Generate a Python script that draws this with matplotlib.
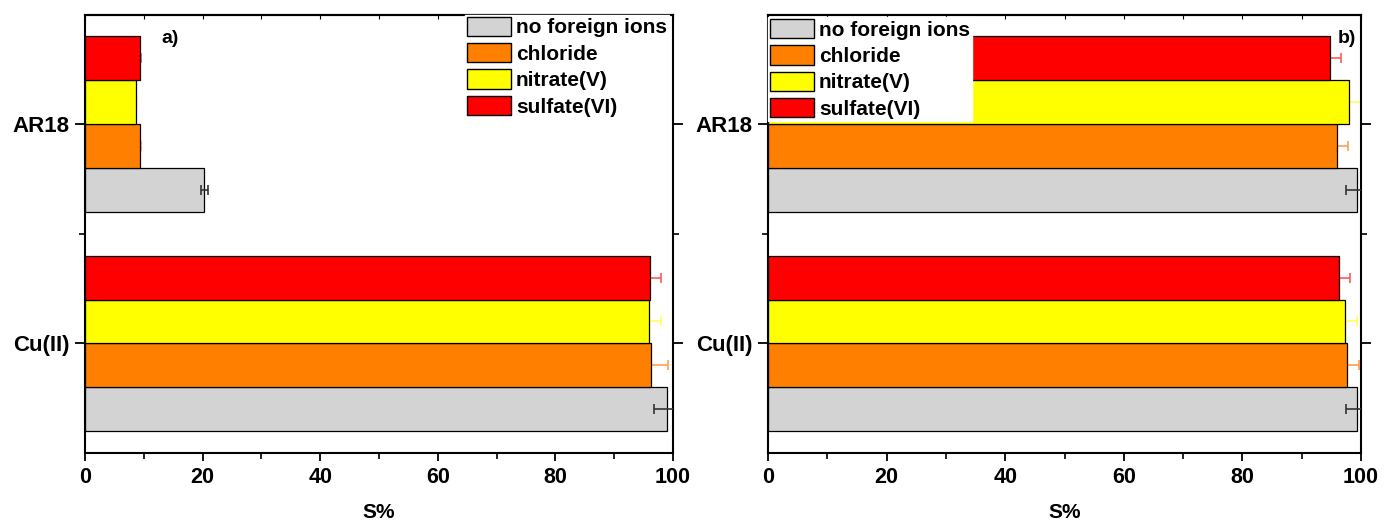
import matplotlib
matplotlib.use("Agg")
import matplotlib.pyplot as plt
from matplotlib.patches import Patch
from matplotlib.ticker import MultipleLocator, FixedLocator, NullFormatter
import numpy as np

plt.rcParams['font.family'] = ['Liberation Sans', 'DejaVu Sans']
plt.rcParams['font.weight'] = 'bold'

categories = ["Cu(II)", "AR18"]
series = ["no foreign ions", "chloride", "nitrate(V)", "sulfate(VI)"]
colors = ["#d3d3d3", "#ff8000", "#ffff00", "#ff0000"]
err_colors = ["#333333", "#ff9f50", "#ffff60", "#ff5a5a"]

# panel a) values per series: [Cu(II), AR18]
a_vals = [[98.9, 20.3], [96.3, 9.3], [95.9, 8.7], [96.1, 9.3]]
a_errs = [[2.1, 0.6], [2.8, 0.3], [2.0, 0.2], [1.9, 0.25]]
# panel b) values per series: [Cu(II), AR18]
b_vals = [[99.4, 99.4], [97.6, 95.9], [97.3, 97.9], [96.3, 94.7]]
b_errs = [[1.9, 1.9], [2.1, 1.9], [2.0, 2.2], [1.9, 1.9]]

xticks = [0, 20, 40, 60, 80, 100]

fig = plt.figure(figsize=(13.85, 5.28), dpi=100)
ax_a = fig.add_axes([0.0614, 0.142, 0.4246, 0.8305])
ax_b = fig.add_axes([0.5545, 0.142, 0.4282, 0.8305])

ypos = np.arange(len(categories))
h = 0.2
offsets = [-0.3, -0.1, 0.1, 0.3]


def draw(ax, vals, errs, tag, tag_xy, legend_loc, legend_anchor):
    for i, name in enumerate(series):
        ax.barh(ypos + offsets[i], vals[i], height=h, color=colors[i],
                edgecolor="black", linewidth=0.9, label=name, zorder=2)
        # coloured bars hide the inner half of their own error bar
        ax.errorbar(vals[i], ypos + offsets[i], xerr=errs[i], fmt="none",
                    ecolor=err_colors[i], elinewidth=1.2, capsize=3.5,
                    capthick=1.2, zorder=3 if i == 0 else 1.5, clip_on=True)
    ax.set_xlim(0, 100)
    ax.set_ylim(-0.5, 1.5)
    ax.set_yticks(ypos)
    ax.set_yticklabels(categories, fontsize=16, fontweight="bold")
    ax.yaxis.set_minor_locator(FixedLocator([0.5]))
    ax.set_xticks(xticks)
    ax.set_xticklabels([str(t) for t in xticks], fontsize=15.5, fontweight="bold")
    ax.xaxis.set_minor_locator(MultipleLocator(10))
    ax.tick_params(axis="x", which="major", direction="out", length=6, width=1.3, pad=4)
    ax.tick_params(axis="x", which="minor", direction="out", length=4, width=1.2)
    ax.tick_params(axis="y", which="major", direction="out", length=7, width=1.3, pad=4,
                   right=True)
    ax.tick_params(axis="y", which="minor", direction="out", length=4, width=1.2,
                   right=True)
    top = ax.secondary_xaxis("top")
    top.set_xticks(xticks)
    top.xaxis.set_minor_locator(MultipleLocator(10))
    top.xaxis.set_major_formatter(NullFormatter())
    top.tick_params(which="both", direction="in", length=3, width=0.8)
    top.spines["top"].set_linewidth(1.5)
    for s in ax.spines.values():
        s.set_linewidth(1.5)
    ax.set_xlabel("S%", fontsize=15, fontweight="bold", labelpad=11)
    ax.text(tag_xy[0], tag_xy[1], tag, transform=ax.transAxes, fontsize=14,
            fontweight="bold", ha="left", va="center")
    handles = [Patch(facecolor=c, edgecolor="black", linewidth=1.0) for c in colors]
    leg = ax.legend(handles, series, loc=legend_loc, bbox_to_anchor=legend_anchor,
                    fontsize=15, frameon=True, fancybox=False, framealpha=1,
                    edgecolor="white", handlelength=2.1, handleheight=1.05,
                    labelspacing=0.27, handletextpad=0.25, borderpad=0.1,
                    borderaxespad=0.0)
    for t in leg.get_texts():
        t.set_fontweight("bold")
    leg.set_zorder(5)


draw(ax_a, a_vals, a_errs, "a)", (0.13, 0.945), "upper right", (0.993, 1.0))
draw(ax_b, b_vals, b_errs, "b)", (0.96, 0.945), "upper left", (0.0, 0.995))

fig.savefig("out.png", dpi=100)
